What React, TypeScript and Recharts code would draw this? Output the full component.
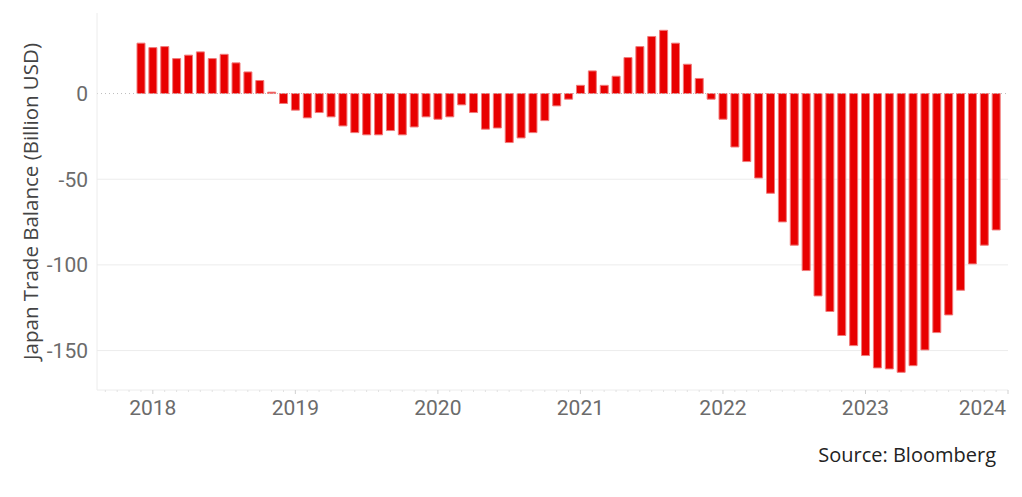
import { BarChart, Bar, XAxis, YAxis, CartesianGrid, ReferenceLine } from "recharts";

// monthly 12m trade balance, Dec 2017 .. Dec 2023
const firstYear = 2017;
const firstMonth = 12;

const balance = [
  29.4, 26.8, 27.4, 20.4, 22.4, 24.3, 20.4, 22.9, 17.9, 12.6, 7.6, 0.8,
  -5.8, -9.7, -14.2, -11.1, -13.6, -18.9, -22.8, -24.1, -24.1, -21.6, -24.1, -19.5,
  -13.6, -15.0, -13.6, -6.6, -11.1, -20.8, -20.1, -28.6, -25.9, -22.8, -15.8, -7.2,
  -3.3, 4.8, 13.2, 4.8, 10.1, 21.0, 27.4, 33.3, 36.9, 29.4, 17.1, 8.8,
  -3.3, -15.0, -31.2, -39.7, -49.3, -58.2, -74.9, -88.5, -103.3, -118.1, -127.2, -141.2,
  -147.1, -152.9, -160.1, -160.7, -162.7, -158.8, -149.6, -139.5, -129.2, -114.8, -99.4, -88.5,
  -79.6,
];

const yearLabels = ["2018", "2019", "2020", "2021", "2022", "2023", "2024"];
const yTicks = [-150, -100, -50, 0];

// month index relative to Jan 2018
const startIdx = (firstYear - 2018) * 12 + (firstMonth - 1);
const months = balance.map((_, i) => {
  const idx = startIdx + i;
  const y = 2018 + Math.floor(idx / 12);
  const m = ((idx % 12) + 12) % 12 + 1;
  return `${y}-${String(m).padStart(2, "0")}`;
});

const data = balance.map((v, i) => ({ month: months[i], m: startIdx + i, v }));

const minorTicks: number[] = [];
for (let t = -4; t <= 72; t++) minorTicks.push(t);

const tickFont = "'Liberation Sans Narrow', 'Roboto', sans-serif";

const XTick = (props: any) => {
  const { x, y, payload } = props;
  const val = payload.value as number;
  const isYear = val % 12 === 0;
  const label = isYear ? yearLabels[val / 12] : null;
  const last = val === 72;
  return (
    <g>
      <line
        x1={x}
        x2={x}
        y1={y}
        y2={y + (isYear ? 4 : 2)}
        stroke={isYear ? "#d0d0d0" : "#e2e2e2"}
      />
      {label && (
        <text
          x={last ? x - 2 : x}
          y={y + 25}
          textAnchor={last ? "end" : "middle"}
          fill="#6b6b6b"
          fontSize={21}
          fontFamily={tickFont}
        >
          {label}
        </text>
      )}
    </g>
  );
};

export default function App() {
  return (
    <div
      style={{
        position: "absolute",
        left: 0,
        top: 0,
        width: 1022,
        height: 497,
        background: "#fff",
      }}
    >
      <BarChart
        width={1022}
        height={497}
        data={data}
        margin={{ top: 13, right: 14, left: 0, bottom: 0 }}
      >
        <CartesianGrid
          vertical={false}
          stroke="#ececec"
          horizontalValues={[-150, -100, -50]}
        />
        <XAxis
          dataKey="m"
          type="number"
          domain={[-4.7, 72]}
          ticks={minorTicks}
          interval={0}
          height={107}
          tickSize={0}
          tickMargin={0}
          tickLine={false}
          axisLine={{ stroke: "#ececec" }}
          tick={<XTick />}
          allowDataOverflow
        />
        <YAxis
          domain={[-173, 47]}
          ticks={yTicks}
          width={97}
          tickSize={0}
          tickMargin={9}
          tickLine={false}
          axisLine={{ stroke: "#ececec" }}
          tick={{ fill: "#6b6b6b", fontSize: 21, fontFamily: tickFont }}
          allowDataOverflow
          label={{
            value: "Japan Trade Balance (Billion USD)",
            angle: -90,
            position: "insideLeft",
            dx: 26,
            dy: 0,
            style: {
              textAnchor: "middle",
              fill: "#444",
              fontSize: 20.5,
              fontFamily: "'Open Sans', sans-serif",
            },
          }}
        />
        <ReferenceLine y={0} stroke="#bdbdbd" strokeDasharray="1 3" />
        <Bar
          dataKey="v"
          barSize={8}
          fill="#e80000"
          stroke="#f07a7a"
          strokeWidth={1}
          isAnimationActive={false}
        />
      </BarChart>
      <div
        style={{
          position: "absolute",
          right: 26,
          top: 445,
          fontFamily: "'Open Sans', sans-serif",
          fontSize: 20,
          lineHeight: "20px",
          color: "#222",
          whiteSpace: "nowrap",
        }}
      >
        Source: Bloomberg
      </div>
    </div>
  );
}
